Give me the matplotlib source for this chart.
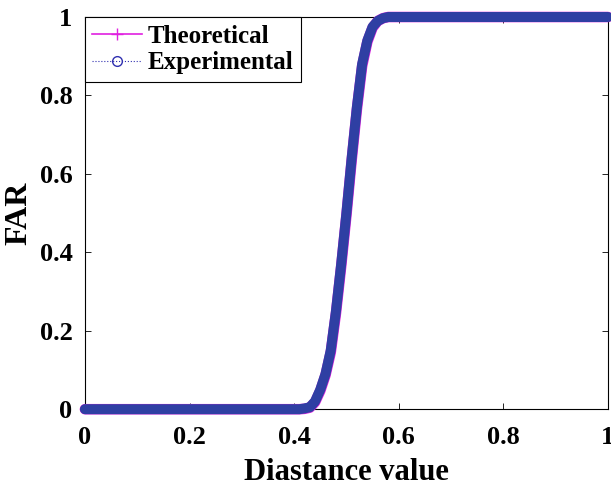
import matplotlib.pyplot as plt
from matplotlib.lines import Line2D

# valores (distancia x FAR)
distancia = [0.00, 0.10, 0.20, 0.30, 0.38, 0.40, 0.41, 0.42, 0.43, 0.44, 0.45,
             0.46, 0.47, 0.48, 0.49, 0.50, 0.51, 0.52, 0.53, 0.54, 0.55,
             0.56, 0.57, 0.58, 0.60, 0.70, 0.80, 0.90, 1.00]
far_teorico = [0.0, 0.0, 0.0, 0.0, 0.0, 0.0, 0.0, 0.001, 0.004, 0.018, 0.047,
               0.087, 0.145, 0.245, 0.365, 0.495, 0.635, 0.765, 0.875, 0.937, 0.973,
               0.99, 0.997, 1.0, 1.0, 1.0, 1.0, 1.0, 1.0]
far_experimental = [0.0, 0.0, 0.0, 0.0, 0.0, 0.0, 0.0, 0.002, 0.005, 0.02, 0.05,
                    0.09, 0.15, 0.25, 0.37, 0.50, 0.64, 0.77, 0.88, 0.94, 0.975,
                    0.99, 0.997, 1.0, 1.0, 1.0, 1.0, 1.0, 1.0]

plt.rcParams['font.family'] = 'Liberation Serif'
plt.rcParams['font.weight'] = 'bold'

fig = plt.figure(figsize=(6.11, 4.86), dpi=100)
ax = fig.add_axes([0.139, 0.158, 0.856, 0.807])

# curvas (marcadores densos parecem uma linha grossa)
ax.plot(distancia, far_teorico, color='#e020e0', lw=7.6, solid_capstyle='round',
        solid_joinstyle='round', clip_on=False, zorder=3)
ax.plot(distancia, far_experimental, color='#2f3fa3', lw=7.2, solid_capstyle='round',
        solid_joinstyle='round', clip_on=False, zorder=4)

ax.set_xlim(0, 1)
ax.set_ylim(0, 1)
ax.set_xticks([0, 0.2, 0.4, 0.6, 0.8, 1])
ax.set_xticklabels(['0', '0.2', '0.4', '0.6', '0.8', '1'])
ax.set_yticks([0, 0.2, 0.4, 0.6, 0.8, 1])
ax.set_yticklabels(['0', '0.2', '0.4', '0.6', '0.8', '1'])
ax.tick_params(direction='in', top=True, right=True, labelsize=19, length=4,
               width=0.6)
ax.tick_params(axis='x', pad=12)
ax.tick_params(axis='y', pad=9)
for sp in ax.spines.values():
    sp.set_linewidth(0.8)

ax.set_xlabel('Diastance value', fontsize=22, fontweight='bold')
ax.set_ylabel('FAR', fontsize=23, fontweight='bold')
# posicao dos rotulos (coordenadas do eixo)
ax.xaxis.set_label_coords(0.5, -0.125)
ax.yaxis.set_label_coords(-0.099, 0.5)

handles = [Line2D([], [], color='#e020e0', lw=1.2, marker='+', markersize=9),
           Line2D([], [], color='#3030b0', lw=0.8, ls=':', marker='o',
                  markersize=7, markerfacecolor='none')]
leg = ax.legend(handles, ['Theoretical', 'Experimental'], loc='upper left',
                fontsize=18, frameon=True, fancybox=False, framealpha=1,
                edgecolor='black', borderpad=0.3, labelspacing=0.15,
                handlelength=2.0, handletextpad=0.2, borderaxespad=0)
leg.get_frame().set_linewidth(0.8)
leg.set_zorder(5)

plt.savefig('out.png', dpi=100)
plt.close()
